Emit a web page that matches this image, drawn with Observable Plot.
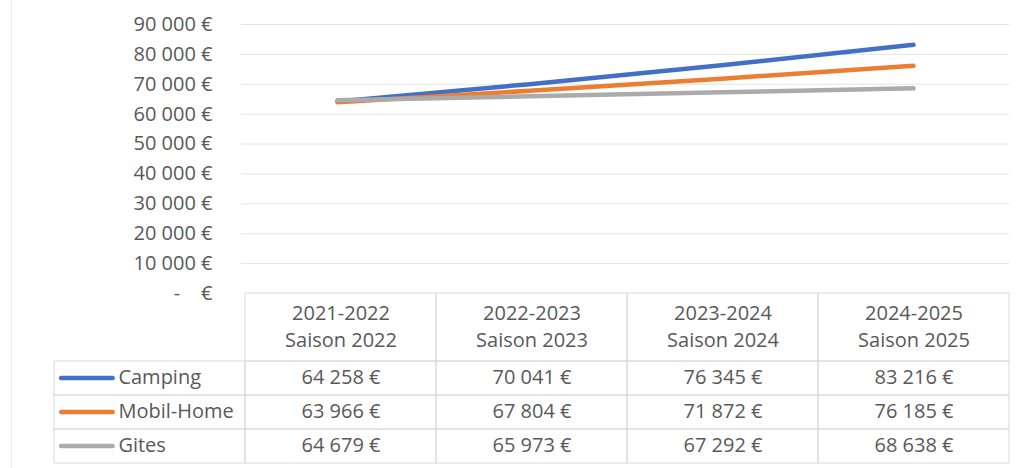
<!DOCTYPE html>
<html><head><meta charset="utf-8">
<script src="https://cdn.jsdelivr.net/npm/d3@7"></script>
<script src="https://cdn.jsdelivr.net/npm/@observablehq/plot@0.6"></script>
<style>
body{margin:0;background:#fff;}
#wrap{position:relative;width:1020px;height:468px;overflow:hidden;font-family:"Open Sans",sans-serif;background:#fff;}
#chart{position:absolute;left:0;top:0}
#table{position:absolute;left:0;top:293px}
#edge{position:absolute;left:11px;top:0;width:0;height:468px;border-left:1px solid #ececec}
</style></head><body><div id="wrap"><div id="edge"></div><div id="chart"></div><div id="table"></div></div>
<script>
// ---- data ----
const seasons = ["2021-2022", "2022-2023", "2023-2024", "2024-2025"];
const saisons = ["Saison 2022", "Saison 2023", "Saison 2024", "Saison 2025"];
const series = ["Camping", "Mobil-Home", "Gites"];
const camping   = [64258, 70041, 76345, 83216];
const mobilHome = [63966, 67804, 71872, 76185];
const gites     = [64679, 65973, 67292, 68638];
const yTicks = [0, 10000, 20000, 30000, 40000, 50000, 60000, 70000, 80000, 90000];
const colors = ["#4170C6", "#ED7D31", "#ABABAB"];

const valuesBySeries = [camping, mobilHome, gites];
const data = [];
series.forEach((s, si) => seasons.forEach((p, pi) => data.push({series: s, season: p, value: valuesBySeries[si][pi]})));

const loc = d3.formatLocale({decimal: ",", thousands: "\u00a0", grouping: [3], currency: ["", "\u00a0€"]});
const fmt = loc.format(",d");
const euro = d => fmt(d) + "\u00a0€";

const textColor = "#595959";
const lineColor = "#dadada";
const baseStyle = {fontFamily: "'Open Sans', sans-serif", fontSize: "20px", color: textColor, background: "transparent", overflow: "visible"};

// ---- chart ----
const chart = Plot.plot({
  width: 1020, height: 300,
  marginTop: 24, marginBottom: 7, marginLeft: 241, marginRight: 11,
  style: baseStyle,
  x: {type: "point", domain: seasons, padding: 0.5, axis: null},
  y: {domain: [0, 90000], ticks: 9, tickSize: 0, tickPadding: 29, label: null,
      tickFormat: d => d === 0 ? "-\u00a0\u00a0\u00a0\u00a0€" : euro(d)},
  color: {domain: series, range: colors},
  marks: [
    Plot.ruleY(yTicks.filter(d => d > 0), {stroke: "#e4e4e4", strokeWidth: 1}),
    Plot.line(data, {x: "season", y: "value", z: "series", stroke: "series", strokeWidth: 4.5, strokeLinecap: "round"})
  ]
});
document.getElementById("chart").appendChild(chart);

// ---- data table ----
const cols = ["", ...seasons];
const rows = ["h1", "h2", ...series];
const band = 170 / rows.length;
const legendBand = (1009 - 53) / cols.length;
const gridCells = [];
series.forEach(s => cols.forEach(c => gridCells.push({series: s, col: c})));

const table = Plot.plot({
  width: 1020, height: 175,
  marginTop: 0, marginBottom: 5, marginLeft: 53, marginRight: 11,
  style: baseStyle,
  x: {type: "band", domain: cols, padding: 0, axis: null},
  y: {type: "band", domain: rows, padding: 0, axis: null},
  color: {domain: series, range: colors},
  marks: [
    Plot.cell(seasons, {x: d => d, y: () => "h1", insetBottom: -band, fill: "none", stroke: lineColor}),
    Plot.cell(gridCells, {x: "col", y: "series", fill: "none", stroke: lineColor}),
    Plot.text(seasons, {x: d => d, y: () => "h1", dy: band / 2 - 3, lineHeight: 1.35,
      text: (d, i) => d + "\n" + saisons[i], fill: textColor}),
    Plot.text(data, {x: "season", y: "series", dy: -1, text: d => euro(d.value), fill: textColor}),
    Plot.cell(series, {x: () => "", y: d => d, fill: d => d, insetLeft: 5, insetRight: legendBand - 61,
      insetTop: band / 2 - 2.2, insetBottom: band / 2 - 2.2, rx: 2}),
    Plot.text(series, {x: () => "", y: d => d, dy: -1, text: d => d, textAnchor: "start", dx: 117 - 53 - legendBand / 2, fill: textColor})
  ]
});
document.getElementById("table").appendChild(table);
</script>
</body></html>
